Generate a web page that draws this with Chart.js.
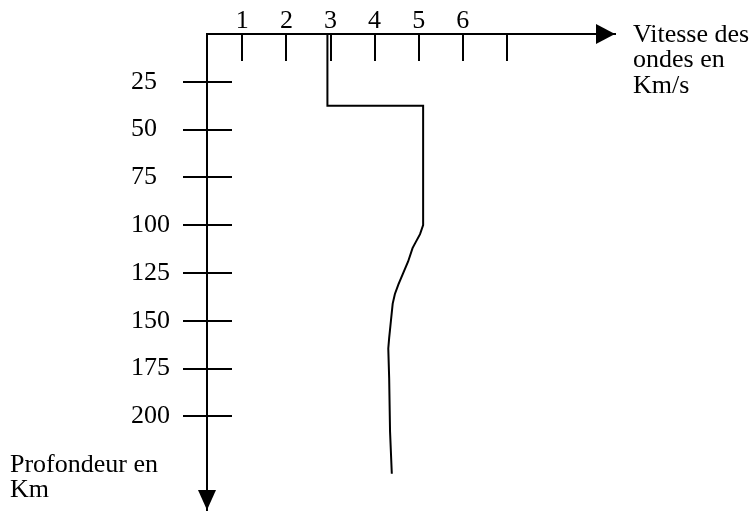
<!DOCTYPE html>
<html lang="fr">
<head>
    <meta charset="UTF-8">
    <title>Vitesse des ondes / profondeur</title>
    <script src="https://cdn.jsdelivr.net/npm/chart.js"></script>
    <style>
        body {
            margin: 0;
            padding: 0;
            background-color: #ffffff;
        }
        canvas {
            display: block;
        }
    </style>
</head>
<body>
    <canvas id="profil" width="756" height="512"></canvas>
    <script>
        const vitesse = [2.93, 2.93, 5.1, 5.1, 5.03, 4.92, 4.86, 4.76, 4.65, 4.54, 4.46, 4.41, 4.37, 4.33, 4.31, 4.33, 4.35, 4.39];
        const profondeur = [0, 37.5, 37.5, 100, 104.7, 109.4, 112, 119, 125, 131, 136, 141, 150, 159, 164.5, 180, 208, 230];

        const xTickValues = [1, 2, 3, 4, 5, 6, 7];
        const xTickLabels = ['1', '2', '3', '4', '5', '6', ''];
        const yTickValues = [25, 50, 75, 100, 125, 150, 175, 200];

        const xTitleLines = ['Vitesse des', 'ondes en', 'Km/s'];
        const yTitleLines = ['Profondeur en', 'Km'];

        const FONT = 'Liberation Serif';

        // petits traits qui croisent les axes + flèches + titres
        const axesPlugin = {
            id: 'axesPlugin',
            afterDraw(chart) {
                const ctx = chart.ctx;
                const area = chart.chartArea;
                const xs = chart.scales.x;
                const ys = chart.scales.y;
                ctx.save();
                ctx.strokeStyle = '#000';
                ctx.fillStyle = '#000';
                ctx.lineWidth = 2;

                xs.ticks.forEach(t => {
                    const px = Math.round(xs.getPixelForValue(t.value));
                    ctx.beginPath();
                    ctx.moveTo(px, area.top);
                    ctx.lineTo(px, area.top + 27);
                    ctx.stroke();
                });
                ys.ticks.forEach(t => {
                    const py = Math.round(ys.getPixelForValue(t.value));
                    ctx.beginPath();
                    ctx.moveTo(area.left - 24, py);
                    ctx.lineTo(area.left + 25, py);
                    ctx.stroke();
                });

                // flèche horizontale
                ctx.beginPath();
                ctx.moveTo(area.right, area.top);
                ctx.lineTo(area.right - 19, area.top - 10);
                ctx.lineTo(area.right - 19, area.top + 10);
                ctx.closePath();
                ctx.fill();
                // flèche verticale
                ctx.beginPath();
                ctx.moveTo(area.left, area.bottom);
                ctx.lineTo(area.left - 9, area.bottom - 20);
                ctx.lineTo(area.left + 9, area.bottom - 20);
                ctx.closePath();
                ctx.fill();

                ctx.font = '26px "' + FONT + '"';
                ctx.textAlign = 'left';
                ctx.textBaseline = 'middle';
                xTitleLines.forEach((s, i) => ctx.fillText(s, 633, area.top + 1 + i * 25.5));
                yTitleLines.forEach((s, i) => ctx.fillText(s, 10, 465 + i * 25.5));
                ctx.restore();
            }
        };

        const points = vitesse.map((v, i) => ({ x: v, y: profondeur[i] }));

        new Chart(document.getElementById('profil'), {
            type: 'scatter',
            data: {
                datasets: [{
                    data: points,
                    showLine: true,
                    borderColor: '#000',
                    borderWidth: 2,
                    pointRadius: 0,
                    tension: 0
                }]
            },
            options: {
                responsive: false,
                animation: false,
                layout: {
                    padding: { left: 131, top: 0, right: 141, bottom: 2 }
                },
                plugins: {
                    legend: { display: false },
                    tooltip: { enabled: false }
                },
                scales: {
                    x: {
                        type: 'linear',
                        position: 'top',
                        min: 0.2,
                        max: 9.45,
                        afterFit(scale) {
                            scale.height = 34;
                            scale.paddingLeft = 0;
                            scale.paddingRight = 0;
                        },
                        afterBuildTicks(scale) {
                            scale.ticks = xTickValues.map(v => ({ value: v }));
                        },
                        grid: { drawOnChartArea: false, drawTicks: false },
                        border: { display: true, color: '#000', width: 2 },
                        ticks: {
                            color: '#000',
                            padding: 0,
                            maxRotation: 0,
                            autoSkip: false,
                            font: { family: FONT, size: 26, lineHeight: 1 },
                            callback: (v) => {
                                const i = xTickValues.indexOf(v);
                                return i >= 0 ? xTickLabels[i] : '';
                            }
                        }
                    },
                    y: {
                        type: 'linear',
                        position: 'left',
                        reverse: true,
                        min: 0,
                        max: 249,
                        afterFit(scale) {
                            scale.width = 76;
                            scale.paddingTop = 0;
                            scale.paddingBottom = 0;
                        },
                        afterBuildTicks(scale) {
                            scale.ticks = yTickValues.map(v => ({ value: v }));
                        },
                        grid: { drawOnChartArea: false, drawTicks: false },
                        border: { display: true, color: '#000', width: 2 },
                        ticks: {
                            color: '#000',
                            crossAlign: 'far',
                            autoSkip: false,
                            font: { family: FONT, size: 26 }
                        }
                    }
                }
            },
            plugins: [axesPlugin]
        });
    </script>
</body>
</html>
